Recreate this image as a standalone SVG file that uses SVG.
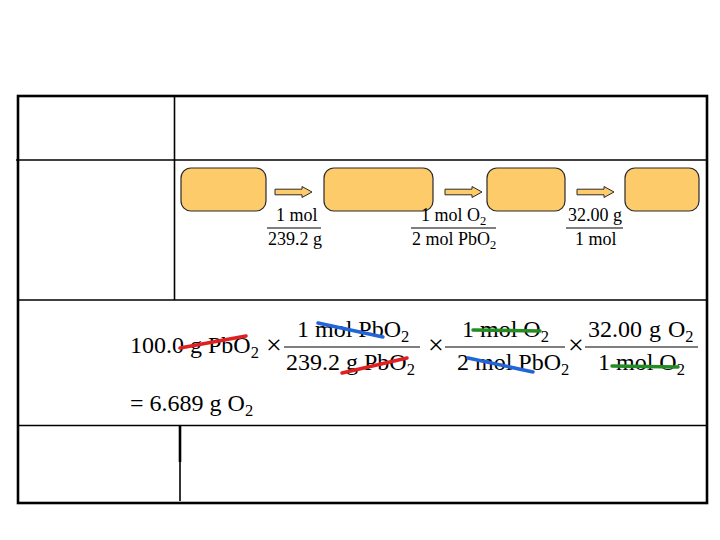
<svg xmlns="http://www.w3.org/2000/svg" width="720" height="540" viewBox="0 0 720 540">
<defs>
<style>
.t{font-family:"Liberation Serif","Times New Roman",serif;fill:#000}
.s{font-size:18px}
.b{font-size:24px}
.m{font-size:28px}
.frac{stroke:#000;stroke-width:1.2}
.grid{stroke:#000;stroke-width:1.6;fill:none}
.box{fill:#FECB6A;stroke:#2a2a2a;stroke-width:1.2}
.arr{fill:#FECB6A;stroke:#2a2a2a;stroke-width:1}
.x{stroke-width:3.5;stroke-linecap:round;fill:none}
.red{stroke:#E21F1F}
.blue{stroke:#2165D8}
.green{stroke:#238C23}
</style>
<path id="arrow" d="M0,-2.8 H27 V-5.5 L37,0 L27,5.5 V2.8 H0 Z"/>
</defs>
<rect width="720" height="540" fill="#fff"/>

<g id="table">
<rect x="18" y="96" width="689" height="407" fill="none" stroke="#000" stroke-width="2.6"/>
<line class="grid" x1="16" y1="160" x2="707" y2="160"/>
<line class="grid" x1="174.5" y1="96" x2="174.5" y2="300"/>
<line class="grid" x1="18" y1="300" x2="707" y2="300"/>
<line class="grid" x1="18" y1="425.5" x2="707" y2="425.5"/>
<line stroke="#000" stroke-width="2.6" x1="180" y1="426" x2="180" y2="462"/>
<line class="grid" x1="180" y1="426" x2="180" y2="501"/>
</g>

<g id="node1"><rect class="box" x="181" y="168" width="85" height="43" rx="10"/></g>
<g id="node2"><rect class="box" x="324" y="168" width="109" height="43" rx="10"/></g>
<g id="node3"><rect class="box" x="487" y="168" width="78" height="43" rx="10"/></g>
<g id="node4"><rect class="box" x="625" y="168" width="74" height="43" rx="10"/></g>

<g id="connectors">
<use href="#arrow" class="arr" x="275" y="192"/>
<use href="#arrow" class="arr" x="445" y="192"/>
<use href="#arrow" class="arr" x="577" y="192"/>
</g>

<g id="factor1">
<text class="t s" x="276" y="221">1 mol</text>
<line class="frac" x1="267" y1="228" x2="321" y2="228"/>
<text class="t s" x="268" y="245">239.2 g</text>
</g>
<g id="factor2">
<text class="t s" x="421" y="221">1 mol O<tspan dy="4" font-size="12.5">2</tspan></text>
<line class="frac" x1="411" y1="228" x2="496" y2="228"/>
<text class="t s" x="412" y="245">2 mol PbO<tspan dy="4" font-size="12.5">2</tspan></text>
</g>
<g id="factor3">
<text class="t s" x="568" y="221">32.00 g</text>
<line class="frac" x1="566" y1="228" x2="623" y2="228"/>
<text class="t s" x="575" y="245">1 mol</text>
</g>

<g id="equation">
<text class="t b" x="130" y="353">100.0 g PbO<tspan dy="5" font-size="16.5">2</tspan></text>
<text class="t m" x="266" y="354">×</text>
<text class="t b" x="297" y="337">1 mol PbO<tspan dy="5" font-size="16.5">2</tspan></text>
<line class="frac" x1="284" y1="347" x2="420" y2="347"/>
<text class="t b" x="286" y="370">239.2 g PbO<tspan dy="5" font-size="16.5">2</tspan></text>
<text class="t m" x="428" y="354">×</text>
<text class="t b" x="462" y="337">1 mol O<tspan dy="5" font-size="16.5">2</tspan></text>
<line class="frac" x1="445" y1="347" x2="565" y2="347"/>
<text class="t b" x="457" y="370">2 mol PbO<tspan dy="5" font-size="16.5">2</tspan></text>
<text class="t m" x="568" y="354">×</text>
<text class="t b" x="588" y="337" word-spacing="1">32.00 g O<tspan dy="5" font-size="16.5">2</tspan></text>
<line class="frac" x1="585" y1="347" x2="698" y2="347"/>
<text class="t b" x="598" y="370">1 mol O<tspan dy="5" font-size="16.5">2</tspan></text>
<text class="t b" x="130" y="411">= 6.689 g O<tspan dy="5" font-size="16.5">2</tspan></text>
</g>

<g id="cancellations">
<line class="x red" x1="180" y1="348" x2="246" y2="336"/>
<line class="x blue" x1="318" y1="323" x2="383" y2="337"/>
<line class="x red" x1="342" y1="373" x2="407" y2="358"/>
<line class="x green" x1="473" y1="330" x2="540" y2="331"/>
<line class="x blue" x1="468" y1="358" x2="533" y2="372"/>
<line class="x green" x1="612" y1="366" x2="678" y2="367"/>
</g>
</svg>
